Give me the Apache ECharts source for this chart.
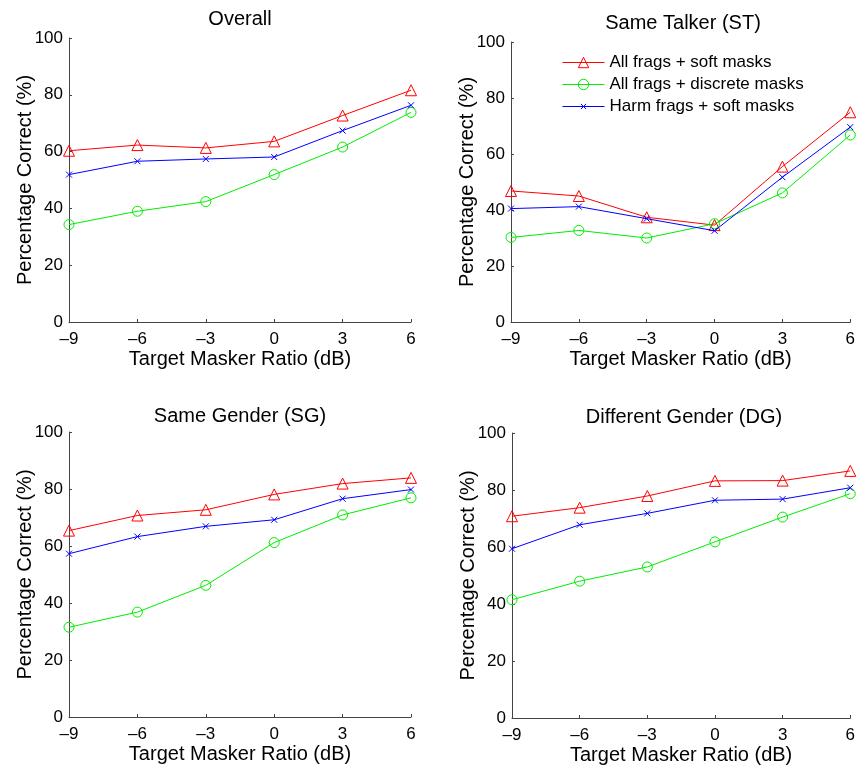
<!DOCTYPE html>
<html>
<head>
<meta charset="utf-8">
<script src="https://cdn.jsdelivr.net/npm/echarts@6/dist/echarts.min.js"></script>
<style>
  html, body { margin: 0; padding: 0; background: #fff; }
  #main { width: 858px; height: 767px; }
</style>
</head>
<body>
<div id="main"></div>
<script>
// x 轴：目标/掩蔽比 (dB)
const tmr = [-9, -6, -3, 0, 3, 6]
const seriesNames = ['All frags + soft masks', 'All frags + discrete masks', 'Harm frags + soft masks']
const panelTitles = ['Overall', 'Same Talker (ST)', 'Same Gender (SG)', 'Different Gender (DG)']

// 每个子图三条线：[soft, discrete, harm]
const overallSoft = [60.3, 62.3, 61.3, 63.6, 72.7, 81.6]
const overallDiscrete = [34.3, 39.0, 42.4, 51.9, 61.6, 73.8]
const overallHarm = [51.9, 56.6, 57.4, 58.1, 67.4, 76.3]

const stSoft = [46.8, 45.0, 37.4, 34.6, 55.5, 74.9]
const stDiscrete = [30.2, 32.7, 30.0, 35.1, 46.1, 66.8]
const stHarm = [40.5, 41.2, 36.9, 32.6, 51.7, 69.6]

const sgSoft = [65.4, 70.7, 72.7, 78.1, 81.9, 83.9]
const sgDiscrete = [31.5, 36.8, 46.2, 61.2, 70.9, 76.9]
const sgHarm = [57.3, 63.3, 66.9, 69.2, 76.6, 79.8]

const dgSoft = [70.8, 73.8, 77.9, 83.2, 83.3, 86.7]
const dgDiscrete = [41.5, 48.0, 53.0, 61.8, 70.5, 78.7]
const dgHarm = [59.4, 67.8, 71.8, 76.4, 76.8, 80.8]

const panelData = [
  [overallSoft, overallDiscrete, overallHarm],
  [stSoft, stDiscrete, stHarm],
  [sgSoft, sgDiscrete, sgHarm],
  [dgSoft, dgDiscrete, dgHarm]
]

const yTicks = [0, 20, 40, 60, 80, 100]

const font = 'Liberation Sans, Arial, Helvetica, sans-serif'
const colors = ['#ff0000', '#00ee00', '#0000ff']
// x 标记加了留白，图例里会小一些
const symbols = ['triangle', 'circle', 'path://M-5,-5M0,0L10,10M10,0L0,10M15,15']
const symbolSizes = [11, 10, 12]

// 子图位置
const grids = [
  { left: 69, top: 38, width: 342, height: 284 },
  { left: 511, top: 42, width: 343, height: 280 },
  { left: 69, top: 432, width: 342, height: 285 },
  { left: 512, top: 433, width: 343, height: 285 }
]

const axisColor = '#444'
const fmt = v => (v < 0 ? '\u2013' + Math.abs(v) : String(v))

const xAxes = grids.map((g, i) => ({
  type: 'value',
  gridIndex: i,
  min: -9,
  max: 6,
  interval: 3,
  name: 'Target Masker Ratio (dB)',
  nameLocation: 'middle',
  nameGap: 27,
  nameMoveOverlap: false,
  nameTextStyle: { color: '#000', fontSize: 20, fontFamily: font },
  axisLine: { show: true, onZero: false, lineStyle: { color: axisColor, width: 1 } },
  axisTick: { show: true, inside: true, length: 3, lineStyle: { color: axisColor } },
  axisLabel: { color: '#000', fontSize: 17, fontFamily: font, margin: 9, formatter: fmt, showMinLabel: true, showMaxLabel: true },
  splitLine: { show: false }
}))

const yAxes = grids.map((g, i) => ({
  type: 'value',
  gridIndex: i,
  min: yTicks[0],
  max: yTicks[yTicks.length - 1],
  interval: 20,
  name: 'Percentage Correct (%)',
  nameLocation: 'middle',
  nameGap: 34,
  nameMoveOverlap: false,
  nameTextStyle: { color: '#000', fontSize: 20, fontFamily: font },
  axisLine: { show: true, onZero: false, lineStyle: { color: axisColor, width: 1 } },
  axisTick: { show: true, inside: true, length: 3, lineStyle: { color: axisColor } },
  axisLabel: { color: '#000', fontSize: 17, fontFamily: font, margin: 6 },
  splitLine: { show: false }
}))

const series = []
panelData.forEach((lines, p) => {
  lines.forEach((vals, k) => {
    series.push({
      name: seriesNames[k],
      type: 'line',
      xAxisIndex: p,
      yAxisIndex: p,
      data: tmr.map((x, j) => [x, vals[j]]),
      symbol: symbols[k],
      symbolSize: symbolSizes[k],
      showAllSymbol: true,
      clip: false,
      z: k === 2 ? 3 : 2,
      lineStyle: { color: colors[k], width: 1 },
      itemStyle: { color: 'rgba(255,255,255,0)', borderColor: colors[k], borderWidth: 1 },
      emphasis: { disabled: true },
      animation: false
    })
  })
})

const titleCenters = [
  { x: 240, y: 9 },
  { x: 683, y: 13 },
  { x: 240, y: 406 },
  { x: 684, y: 407 }
]

const chartBox = echarts.init(document.getElementById('main'))
const option = {
  backgroundColor: '#fff',
  animation: false,
  title: panelTitles.map((t, i) => ({
    text: t,
    left: titleCenters[i].x,
    top: titleCenters[i].y,
    textAlign: 'center',
    padding: 0,
    textStyle: { color: '#000', fontSize: 20, fontWeight: 'normal', fontFamily: font }
  })),
  legend: {
    data: seriesNames,
    orient: 'vertical',
    left: 562,
    top: 54,
    itemWidth: 42,
    itemHeight: 13,
    itemGap: 5,
    padding: 0,
    lineStyle: { width: 1 },
    itemStyle: { borderWidth: 1 },
    textStyle: { color: '#000', fontSize: 17, fontFamily: font },
    selectedMode: false
  },
  grid: grids,
  xAxis: xAxes,
  yAxis: yAxes,
  series: series
}
chartBox.setOption(option)
</script>
</body>
</html>
